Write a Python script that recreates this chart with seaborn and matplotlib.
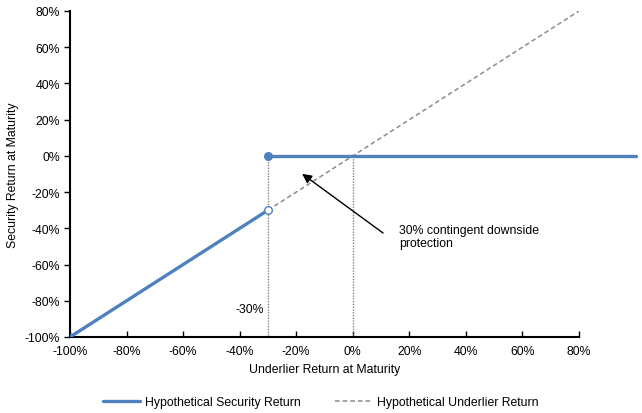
import numpy as np
import pandas as pd
import matplotlib
matplotlib.use("Agg")
import matplotlib.pyplot as plt
import seaborn as sns
from matplotlib.lines import Line2D

sns.set_theme(style="white")
plt.rcParams['font.family'] = ['Liberation Sans', 'DejaVu Sans']
plt.rcParams['text.color'] = 'black'
plt.rcParams['axes.labelcolor'] = 'black'
plt.rcParams['xtick.color'] = 'black'
plt.rcParams['ytick.color'] = 'black'

# Data (returns in %)
underlier_x = [-30, 80]
underlier_y = [-30, 80]
security_down_x = [-100, -30]
security_down_y = [-100, -30]
security_flat_x = [-30, 100]
security_flat_y = [0, 0]
barrier = -30
x_ticks = [-100, -80, -60, -40, -20, 0, 20, 40, 60, 80]
y_ticks = [-100, -80, -60, -40, -20, 0, 20, 40, 60, 80]

blue = "#4f81bd"
gray = "#8c8c8c"
FS = 8.8

fig = plt.figure(figsize=(6.42, 4.14), dpi=100)
ax = fig.add_axes([70/642, 1-338/414, (579-70)/642, (338-12)/414])

# dotted guide lines
ax.plot([barrier, barrier], [0, -100], color="#808080", lw=1.0, ls=(0, (1, 1)), zorder=1)
ax.plot([0, 0], [0, -100], color="#808080", lw=1.0, ls=(0, (1, 1)), zorder=1)

df_u = pd.DataFrame({"x": underlier_x, "y": underlier_y})
sns.lineplot(data=df_u, x="x", y="y", ax=ax, color=gray, lw=1.1,
             linestyle=(0, (3, 2)), zorder=2, legend=False)

df_s1 = pd.DataFrame({"x": security_down_x, "y": security_down_y})
sns.lineplot(data=df_s1, x="x", y="y", ax=ax, color=blue, lw=2.4, zorder=3, legend=False)
df_s2 = pd.DataFrame({"x": security_flat_x, "y": security_flat_y})
sns.lineplot(data=df_s2, x="x", y="y", ax=ax, color=blue, lw=2.4, zorder=3, legend=False)
ax.lines[-1].set_clip_on(False)

ax.plot([barrier], [0], marker="o", ms=5.5, mfc=blue, mec=blue, zorder=5, clip_on=False)
ax.plot([barrier], [barrier], marker="o", ms=5.5, mfc="white", mec=blue, mew=1.0, zorder=5)

ax.set_xlim(-100, 80)
ax.set_ylim(-100, 80)
ax.set_xticks(x_ticks)
ax.set_yticks(y_ticks)
ax.set_xticklabels([f"{v}%" for v in x_ticks], fontsize=FS)
ax.set_yticklabels([f"{v}%" for v in y_ticks], fontsize=FS)
ax.tick_params(axis="y", direction="out", length=4, width=1, color="black", pad=3, left=True)
ax.tick_params(axis="x", direction="in", length=4, width=1, color="black", pad=6, bottom=True)
for s in ["top", "right"]:
    ax.spines[s].set_visible(False)
for s in ["left", "bottom"]:
    ax.spines[s].set_color("black")
    ax.spines[s].set_linewidth(1.5)

ax.set_xlabel("Underlier Return at Maturity", fontsize=FS, labelpad=4)
ax.set_ylabel("Security Return at Maturity", fontsize=FS, labelpad=4)

ax.annotate("", xy=(-18.7, -9), xytext=(11.5, -43.5),
            arrowprops=dict(arrowstyle="-|>", color="black", lw=1.0, mutation_scale=14))
ax.text(16.3, -37.5, "30% contingent downside\nprotection", fontsize=FS, va="top", ha="left",
        linespacing=1.1)
ax.text(-31.5, -84.5, "-30%", fontsize=FS, va="center", ha="right")

handles = [Line2D([], [], color=blue, lw=2.4),
           Line2D([], [], color=gray, lw=1.1, ls=(0, (3, 2)))]
fig.legend(handles, ["Hypothetical Security Return", "Hypothetical Underlier Return"],
           loc="center", bbox_to_anchor=(0.5, 1-403/414), ncol=2, frameon=False,
           fontsize=FS, handlelength=3.0, handletextpad=0.45, columnspacing=2.8)

fig.savefig("out.png", dpi=100)
